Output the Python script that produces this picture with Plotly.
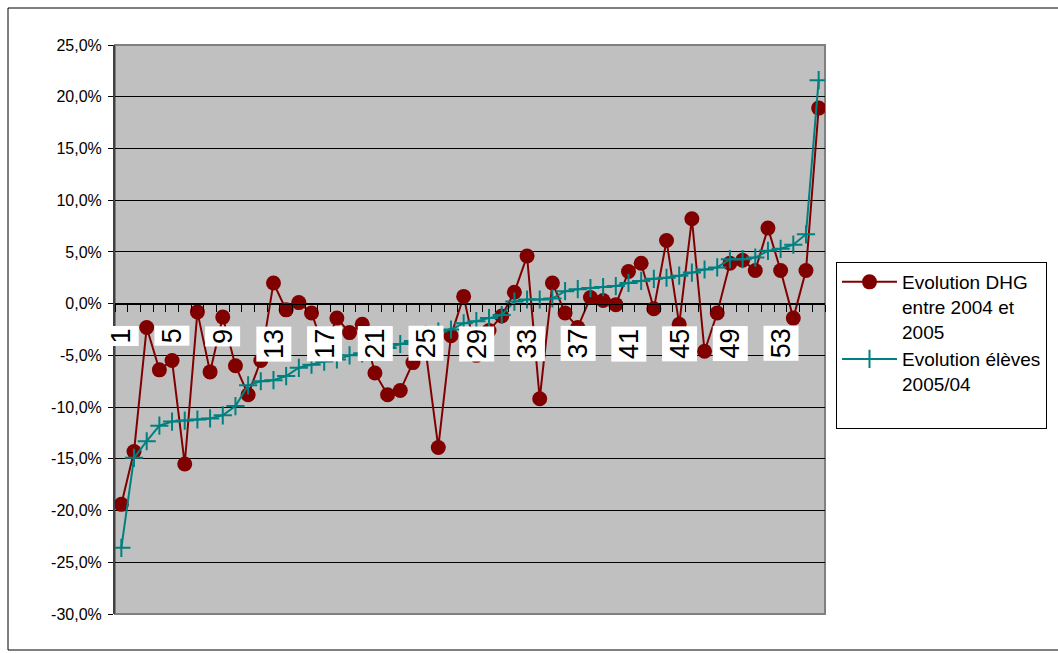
import plotly.graph_objects as go

# Category index (1..56) and the two series, in percent
categories = list(range(1, 57))

evolution_dhg = [
    -19.4, -14.3, -2.3, -6.4, -5.5, -15.5, -0.8, -6.6, -1.3, -6.0,
    -8.8, -5.5, 2.0, -0.6, 0.1, -0.9, -4.4, -1.4, -2.8, -2.0,
    -6.7, -8.8, -8.4, -5.7, -4.5, -13.9, -3.1, 0.7, -5.0, -2.6,
    -1.2, 1.1, 4.6, -9.2, 2.0, -0.9, -2.3, 0.6, 0.3, -0.1,
    3.1, 3.9, -0.5, 6.1, -2.0, 8.2, -4.6, -0.9, 3.9, 4.2,
    3.2, 7.3, 3.2, -1.4, 3.2, 18.9,
]

evolution_eleves = [
    -23.6, -14.9, -13.3, -11.8, -11.4, -11.3, -11.2, -11.1, -10.8, -9.9,
    -7.9, -7.5, -7.4, -7.0, -6.2, -5.9, -5.6, -5.4, -5.0, -4.8,
    -4.6, -4.3, -3.9, -3.6, -3.0, -2.7, -2.5, -1.9, -1.7, -1.4,
    -1.1, 0.2, 0.4, 0.4, 0.5, 1.2, 1.4, 1.5, 1.6, 1.7,
    2.0, 2.2, 2.4, 2.5, 2.7, 3.0, 3.3, 3.5, 4.3, 4.3,
    4.45, 5.1, 5.3, 5.7, 6.7, 21.6,
]

series_names = ["Evolution DHG<br>entre 2004 et<br>2005", "Evolution élèves<br>2005/04<br> "]

y_ticks = [25, 20, 15, 10, 5, 0, -5, -10, -15, -20, -25, -30]
y_tick_labels = ["25,0%", "20,0%", "15,0%", "10,0%", "5,0%", "0,0%",
                 "-5,0%", "-10,0%", "-15,0%", "-20,0%", "-25,0%", "-30,0%"]

x_label_cats = list(range(1, 57, 4))

FONT = "Liberation Sans, Arial, sans-serif"
W, H = 1058, 653
ML, MR, MT, MB = 115, 233, 45, 39
PW, PH = W - ML - MR, H - MT - MB
Y_MIN, Y_MAX = -30, 25

fig = go.Figure()

fig.add_trace(go.Scatter(
    x=categories, y=evolution_dhg, name=series_names[0],
    mode="lines+markers",
    line=dict(color="#800000", width=2),
    marker=dict(symbol="circle", size=15, color="#800000"),
))

fig.add_trace(go.Scatter(
    x=categories, y=evolution_eleves, name=series_names[1],
    mode="lines+markers",
    line=dict(color="#008080", width=2),
    marker=dict(symbol="cross-thin", size=13, color="#008080",
                line=dict(color="#008080", width=2)),
))

# Category labels sitting under the zero line, on white boxes
annotations = []
for c in x_label_cats:
    annotations.append(dict(
        x=c, y=0, xref="x", yref="y",
        text=str(c), showarrow=False, textangle=-90,
        xanchor="center", yanchor="top", yshift=-22,
        bgcolor="white", borderpad=2,
        font=dict(family=FONT, size=27, color="black"),
    ))

# paper-fraction helpers
def px_x(p):
    return (p - ML) / PW

def px_y(p):
    return (H - MB - p) / PH

shapes = [
    # plot area frame
    dict(type="rect", xref="x domain", yref="y domain", x0=0, x1=1, y0=0, y1=1,
         line=dict(color="#808080", width=2), layer="below"),
    # outer chart border
    dict(type="rect", xref="paper", yref="paper",
         x0=px_x(8), x1=px_x(1075), y0=px_y(650), y1=px_y(8),
         line=dict(color="black", width=1)),
]

fig.update_layout(
    width=W, height=H, autosize=False,
    margin=dict(l=ML, r=MR, t=MT, b=MB, autoexpand=False),
    paper_bgcolor="white", plot_bgcolor="#C0C0C0",
    font=dict(family=FONT, size=16, color="black"),
    showlegend=True,
    legend=dict(
        x=px_x(836), y=px_y(262), xanchor="left", yanchor="top",
        bgcolor="white", bordercolor="black", borderwidth=1,
        font=dict(family=FONT, size=19, color="black"),
        valign="top", tracegroupgap=0, itemwidth=55,
    ),
    annotations=annotations,
    shapes=shapes,
)

fig.update_xaxes(
    range=[0.5, 56.5], anchor="free", position=(0 - Y_MIN) / (Y_MAX - Y_MIN),
    showgrid=False, zeroline=False,
    showline=True, linecolor="black", linewidth=1,
    tickmode="array", tickvals=[k + 0.5 for k in range(0, 57)],
    ticks="outside", ticklen=7, tickwidth=1, tickcolor="black",
    showticklabels=False,
)

fig.update_yaxes(
    range=[Y_MIN, Y_MAX],
    tickmode="array", tickvals=y_ticks, ticktext=y_tick_labels,
    showgrid=True, gridcolor="black", gridwidth=1,
    zeroline=False,
    showline=True, linecolor="#404040", linewidth=2,
    ticks="outside", ticklen=5, tickwidth=1, tickcolor="black",
    ticklabelstandoff=3,
    tickfont=dict(family=FONT, size=16, color="black"),
)

fig.write_html("out.html")
